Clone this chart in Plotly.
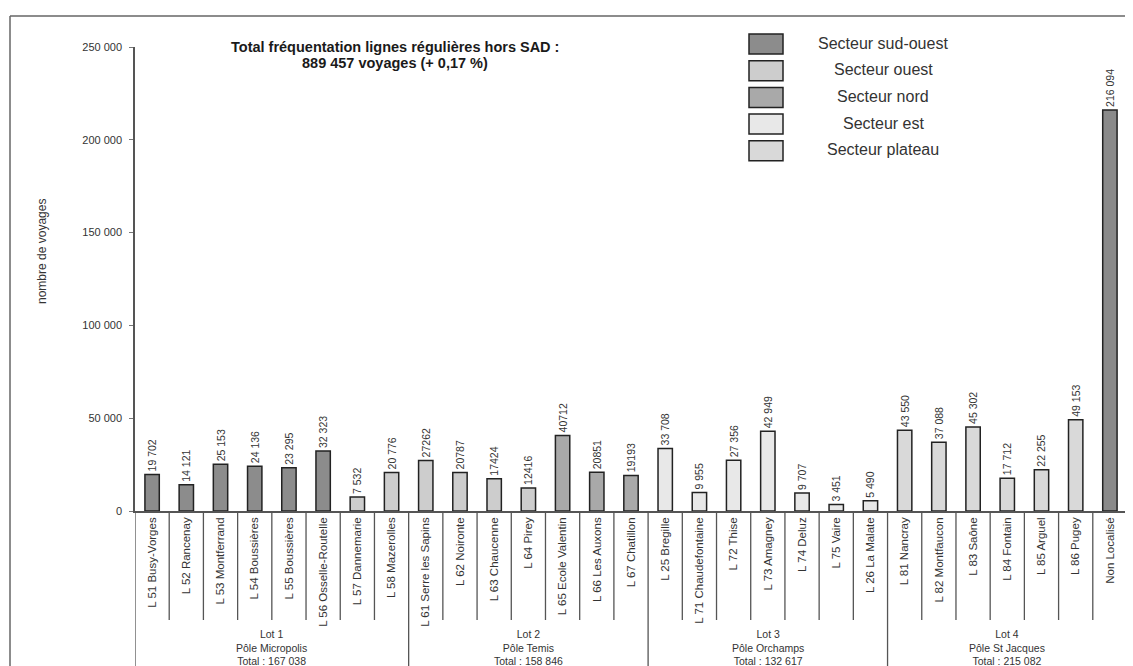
import plotly.graph_objects as go

# ---------------- data ----------------
lines = [
    "L 51 Busy-Vorges", "L 52 Rancenay", "L 53 Montferrand", "L 54 Boussières",
    "L 55 Boussières", "L 56 Osselle-Routelle", "L 57 Dannemarie", "L 58 Mazerolles",
    "L 61 Serre les Sapins", "L 62 Noironte", "L 63 Chaucenne", "L 64 Pirey",
    "L 65 Ecole Valentin", "L 66 Les Auxons", "L 67 Chatillon",
    "L 25 Bregille", "L 71 Chaudefontaine", "L 72 Thise", "L 73 Amagney",
    "L 74 Deluz", "L 75 Vaire", "L 26 La Malate",
    "L 81 Nancray", "L 82 Montfaucon", "L 83 Saône", "L 84 Fontain",
    "L 85 Arguel", "L 86 Pugey", "Non Localisé",
]
voyages = [
    19702, 14121, 25153, 24136, 23295, 32323, 7532, 20776,
    27262, 20787, 17424, 12416, 40712, 20851, 19193,
    33708, 9955, 27356, 42949, 9707, 3451, 5490,
    43550, 37088, 45302, 17712, 22255, 49153, 216094,
]
value_labels = [
    "19 702", "14 121", "25 153", "24 136", "23 295", "32 323", "7 532", "20 776",
    "27262", "20787", "17424", "12416", "40712", "20851", "19193",
    "33 708", "9 955", "27 356", "42 949", "9 707", "3 451", "5 490",
    "43 550", "37 088", "45 302", "17 712", "22 255", "49 153", "216 094",
]
sectors = [
    "sud-ouest", "sud-ouest", "sud-ouest", "sud-ouest", "sud-ouest", "sud-ouest", "ouest", "ouest",
    "ouest", "ouest", "ouest", "ouest", "nord", "nord", "nord",
    "est", "est", "est", "est", "est", "est", "est",
    "plateau", "plateau", "plateau", "plateau", "plateau", "plateau", "non",
]
sector_names = ["sud-ouest", "ouest", "nord", "est", "plateau"]
legend_labels = ["Secteur sud-ouest", "Secteur ouest", "Secteur nord", "Secteur est", "Secteur plateau"]

lot_sizes = [8, 7, 7, 7]
lot_labels = [
    "Lot 1<br>Pôle Micropolis<br>Total : 167 038",
    "Lot 2<br>Pôle Temis<br>Total : 158 846",
    "Lot 3<br>Pôle Orchamps<br>Total : 132 617",
    "Lot 4<br>Pôle St Jacques<br>Total : 215 082",
]
title_lines = ["Total fréquentation lignes régulières hors SAD :", "889 457 voyages (+ 0,17 %)"]

# ---------------- style ----------------
colors = {
    "sud-ouest": "#8c8c8c",
    "ouest": "#cdcdcd",
    "nord": "#a9a9a9",
    "est": "#e8e8e8",
    "plateau": "#d9d9d9",
    "non": "#8a8a8a",
}
OFF = 8                      # page body margin
W, H = 1133 - OFF, 666 - OFF
L = 135 - OFF                # plot area left (page px 135)
R = W - (1127 - OFF)         # plot area right (page px 1127)
T = 47 - OFF                 # plot area top (page px 47)
B = H - (511 - OFF)          # plot area bottom (page px 511)
pw, ph = W - L - R, H - T - B


def px(xp):
    """page pixel x -> paper"""
    return (xp - OFF - L) / pw


def py(yp):
    """page pixel y -> paper"""
    return (H - B - (yp - OFF)) / ph


FONT = "Liberation Sans, Arial, sans-serif"
fig = go.Figure()

for s in sector_names + ["non"]:
    idx = [i for i, v in enumerate(sectors) if v == s]
    fig.add_trace(go.Bar(
        x=[lines[i] for i in idx],
        y=[voyages[i] for i in idx],
        text=[value_labels[i] for i in idx],
        textposition="outside",
        textangle=-90,
        constraintext="none",
        cliponaxis=False,
        textfont=dict(size=10.5, color="#333", family=FONT),
        marker=dict(color=colors[s], line=dict(color="#222", width=1.5)),
        name=s,
        showlegend=False,
        width=0.42,
    ))

shapes = []
bounds = [-0.5]
for n in lot_sizes:
    bounds.append(bounds[-1] + n)
for i in range(len(lines) - 1):
    b = i + 0.5
    if b in bounds:
        continue
    shapes.append(dict(type="line", xref="x", yref="paper", x0=b, x1=b,
                       y0=0, y1=py(620), line=dict(color="#555", width=1.3)))
for b in bounds:
    shapes.append(dict(type="line", xref="x", yref="paper", x0=b, x1=b,
                       y0=0, y1=py(670), line=dict(color="#555", width=1.3)))

# outer frame
shapes.append(dict(type="line", xref="paper", yref="paper", x0=px(10), x1=px(10),
                   y0=py(16), y1=py(670), line=dict(color="#666", width=1.5)))
shapes.append(dict(type="line", xref="paper", yref="paper", x0=px(10), x1=px(1140),
                   y0=py(16), y1=py(16), line=dict(color="#666", width=1.5)))

annotations = []
for k, n in enumerate(lot_sizes):
    c = (bounds[k] + bounds[k + 1]) / 2
    annotations.append(dict(x=c, xref="x", y=py(626), yref="paper", yanchor="top",
                            xanchor="center",
                            text=lot_labels[k], showarrow=False, align="center",
                            font=dict(size=10.5, color="#333", family=FONT)))

for k, (t, yy) in enumerate(zip(title_lines, [47, 63])):
    annotations.append(dict(x=px(395), y=py(yy), xref="paper", yref="paper",
                            xanchor="center", yanchor="middle",
                            text="<b>" + t + "</b>", showarrow=False,
                            font=dict(size=14.5, color="#1a1a1a", family=FONT)))

annotations.append(dict(x=px(42), y=py(252), xref="paper", yref="paper",
                        xanchor="center", yanchor="middle",
                        text="nombre de voyages", textangle=-90, showarrow=False,
                        font=dict(size=12, color="#333", family=FONT)))

for k, s in enumerate(sector_names):
    y0 = 34 + k * 26.7
    shapes.append(dict(type="rect", xref="paper", yref="paper",
                       x0=px(749), x1=px(783), y0=py(y0), y1=py(y0 + 20),
                       fillcolor=colors[s], line=dict(color="#222", width=1.5)))
    annotations.append(dict(x=px(883), y=py(y0 + 9), xref="paper", yref="paper",
                            xanchor="center", yanchor="middle",
                            text=legend_labels[k], showarrow=False,
                            font=dict(size=16, color="#333", family=FONT)))

fig.update_layout(
    width=W, height=H,
    margin=dict(l=L, r=R, t=T, b=B, autoexpand=False),
    paper_bgcolor="white", plot_bgcolor="white",
    barmode="overlay",
    separators=", ",
    showlegend=False,
    shapes=shapes,
    annotations=annotations,
    font=dict(family=FONT, color="#333"),
    xaxis=dict(
        type="category", categoryorder="array", categoryarray=lines,
        tickangle=-90, tickfont=dict(size=11.5, color="#333", family=FONT),
        showline=True, linecolor="#555", linewidth=1.5, automargin=False,
        showgrid=False, ticks="", range=[-0.5, len(lines) - 0.5],
    ),
    yaxis=dict(
        range=[0, 250000], tickvals=[0, 50000, 100000, 150000, 200000, 250000],
        tickformat=",d", tickfont=dict(size=11, color="#333", family=FONT),
        showline=True, linecolor="#555", linewidth=1.5, automargin=False,
        ticks="outside", ticklen=4, tickcolor="#777", ticklabelstandoff=5,
        showgrid=False, zeroline=False,
    ),
)

fig.write_html("out.html")
